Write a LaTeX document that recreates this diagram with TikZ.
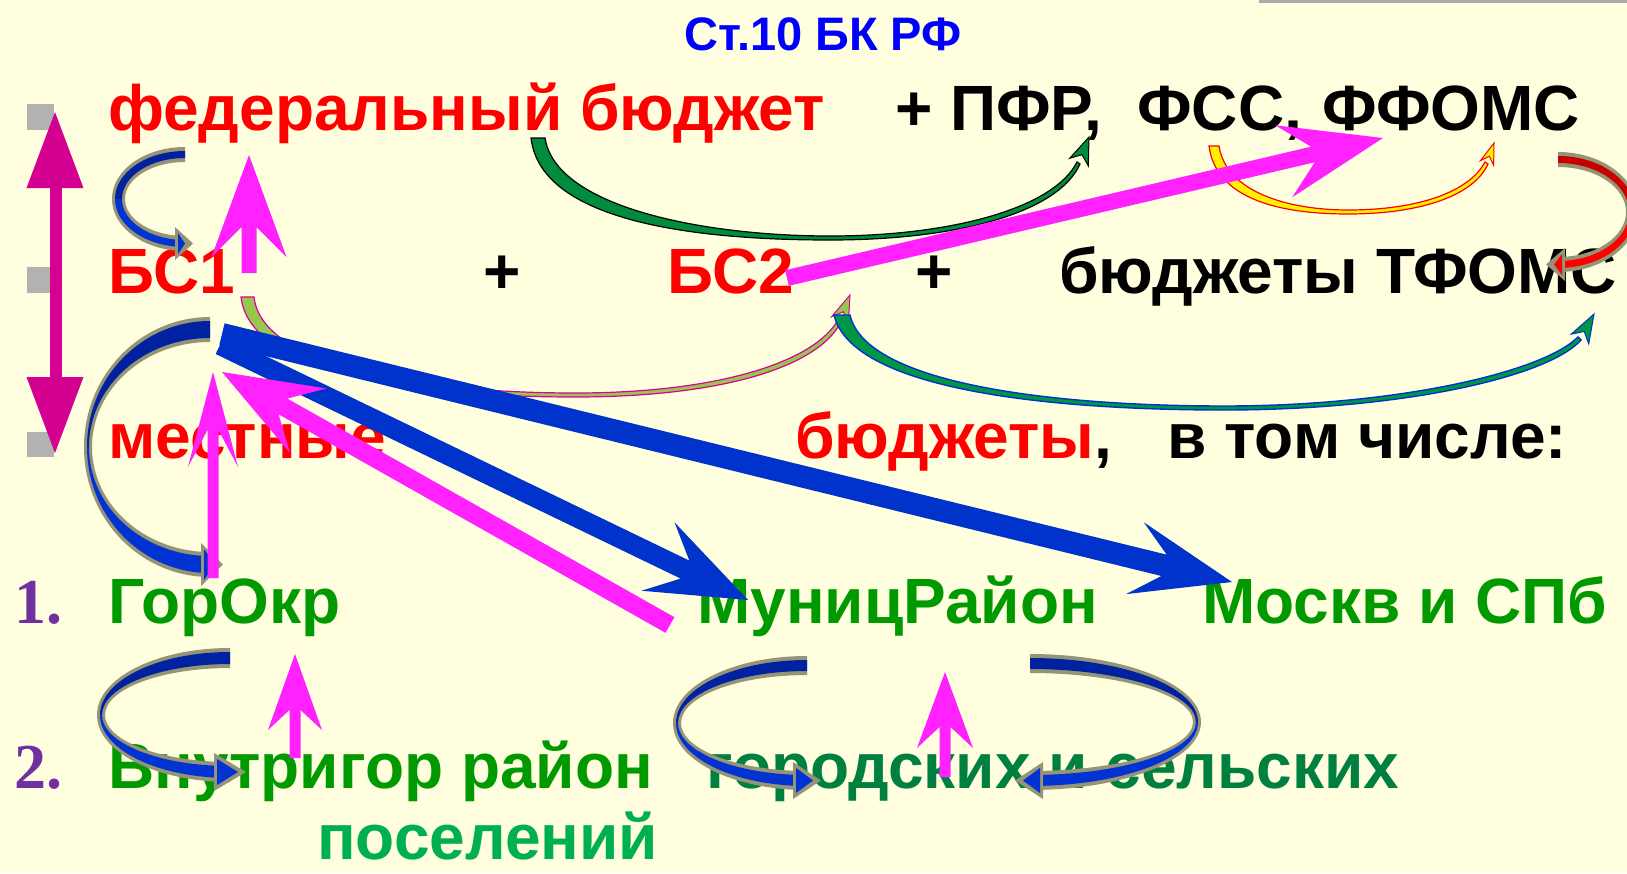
\documentclass[tikz,border=0pt]{standalone}
\usepackage{fontspec}
\setmainfont{Liberation Sans}
\newfontfamily\numfont{Liberation Serif}
\usetikzlibrary{calc}
\definecolor{bg}{RGB}{255,255,224}
\definecolor{cgray}{RGB}{150,148,118}
\definecolor{topblue}{RGB}{0,34,160}
\definecolor{botblue}{RGB}{0,51,210}
\definecolor{topred}{RGB}{200,0,0}
\definecolor{botred}{RGB}{255,0,0}
\definecolor{bluear}{RGB}{0,51,204}
\definecolor{mag}{RGB}{255,34,255}
\definecolor{vmag}{RGB}{212,0,145}
\definecolor{grn}{RGB}{0,153,0}
\definecolor{dgrn}{RGB}{0,128,64}
\definecolor{lgrn}{RGB}{0,176,80}
\definecolor{numpurple}{RGB}{112,48,160}
\definecolor{titleblue}{RGB}{0,0,255}
\definecolor{bulletgray}{RGB}{178,178,178}
\definecolor{gfill}{RGB}{0,140,60}
\definecolor{pgfillc}{RGB}{150,200,80}
\definecolor{pgdraw}{RGB}{220,0,150}
\definecolor{bgfill}{RGB}{0,150,70}
\definecolor{topline}{RGB}{170,170,170}

% straight fat arrow: color, start, tip, shaft half width, head length, head half width, notch distance
\newcommand\fatarrow[7]{%
  \coordinate (faN) at ($(#3)!#7pt!(#2)$);
  \coordinate (faB) at ($(#3)!#5pt!(#2)$);
  \fill[#1] ($(#2)!#4pt!90:(#3)$) -- ($(faN)!#4pt!90:(#3)$) -- ($(faB)!#6pt!90:(#3)$) -- (#3)
    -- ($(faB)!#6pt!-90:(#3)$) -- ($(faN)!#4pt!-90:(#3)$) -- ($(#2)!#4pt!-90:(#3)$) -- cycle;}
% head only: fill, draw, base, tip, half width, notch distance
\newcommand\headpoly[6]{%
  \filldraw[fill=#1, draw=#2, line width=1pt, line join=miter] (#4) -- ($(#3)!#5pt!90:(#4)$)
    -- ($(#4)!#6pt!(#3)$) -- ($(#3)!#5pt!-90:(#4)$) -- cycle;}
% C-shaped ribbon arrow bulging left: cx cy rxo ryo rxi ryi hl colourname hb
\newcommand\Cleft[9]{%
  \fill[cgray] (#1,#2-#4) arc[start angle=270,end angle=90,x radius=#3,y radius=#4]
    -- (#1,#2+#6) arc[start angle=90,end angle=270,x radius=#5,y radius=#6] -- cycle;
  \fill[top#8] (#1,#2-#4+4) arc[start angle=270,end angle=180,x radius=#3-3,y radius=#4-4]
    -- (#1-#5-3,#2) arc[start angle=180,end angle=270,x radius=#5+3,y radius=#6+4] -- cycle;
  \fill[bot#8] (#1-#3+3,#2) arc[start angle=180,end angle=90,x radius=#3-3,y radius=#4-4]
    -- (#1,#2+#6+4) arc[start angle=90,end angle=180,x radius=#5+3,y radius=#6+4] -- cycle;
  \fill[cgray] (#1-#9,#2+#6-9) -- (#1+#7,#2+#4/2+#6/2) -- (#1-#9,#2+#4+9) -- cycle;
  \fill[bot#8] (#1-#9+3,#2+#6-3) -- (#1+#7-8,#2+#4/2+#6/2) -- (#1-#9+3,#2+#4+3) -- cycle;}
% C-shaped ribbon arrow bulging right
\newcommand\Cright[9]{%
  \fill[cgray] (#1,#2-#4) arc[start angle=-90,end angle=90,x radius=#3,y radius=#4]
    -- (#1,#2+#6) arc[start angle=90,end angle=-90,x radius=#5,y radius=#6] -- cycle;
  \fill[top#8] (#1,#2-#4+4) arc[start angle=-90,end angle=0,x radius=#3-3,y radius=#4-4]
    -- (#1+#5+3,#2) arc[start angle=0,end angle=-90,x radius=#5+3,y radius=#6+4] -- cycle;
  \fill[bot#8] (#1+#3-3,#2) arc[start angle=0,end angle=90,x radius=#3-3,y radius=#4-4]
    -- (#1,#2+#6+4) arc[start angle=90,end angle=0,x radius=#5+3,y radius=#6+4] -- cycle;
  \fill[cgray] (#1+#9,#2+#6-9) -- (#1-#7,#2+#4/2+#6/2) -- (#1+#9,#2+#4+9) -- cycle;
  \fill[bot#8] (#1+#9-3,#2+#6-3) -- (#1-#7+8,#2+#4/2+#6/2) -- (#1+#9-3,#2+#4+3) -- cycle;}

\begin{document}
\begin{tikzpicture}[x=1pt,y=-1pt,
  txt/.style={anchor=base west, inner sep=0pt, font=\fontsize{64}{64}\selectfont\bfseries},
  num/.style={anchor=base west, inner sep=0pt, text=numpurple, font=\fontsize{64}{64}\selectfont\numfont\bfseries},
  bullet/.style={fill=bulletgray}]
\fill[bg] (0,0) rectangle (1627,873);
\useasboundingbox (0,0) rectangle (1627,873);
\draw[topline, line width=3pt] (1259,1.5) -- (1627,1.5);

% bullets
\fill[bullet] (27,104) rectangle (54,130);
\fill[bullet] (27,267) rectangle (54,293);
\fill[bullet] (27,432) rectangle (54,457);

% texts
\node[anchor=base west, inner sep=0pt, text=titleblue, font=\fontsize{47}{47}\selectfont\bfseries] (title) at (684,50) {Ст.10 БК РФ};
\node[txt, text=red] (fed) at (108,130) {федеральный бюджет};
\node[txt] (pfr) at (895,130) {+ ПФР,};
\node[txt] (fss) at (1137,130) {ФСС,};
\node[txt] (ffoms) at (1322,130) {ФФОМС};
\node[txt, text=red] (bs1) at (108,293) {БС1};
\node[txt] (plus1) at (483,293) {+};
\node[txt, text=red] (bs2) at (667,293) {БС2};
\node[txt] (plus2) at (915,293) {+};
\node[txt] (tfoms) at (1059,293) {бюджеты ТФОМС};
\node[txt, text=red] (mest) at (108,458) {местные};
\node[txt] (bud) at (795,458) {\textcolor{red}{бюджеты},};
\node[txt] (vtom) at (1167,458) {в том числе:};
\node[num] (n1) at (14,623) {1.};
\node[txt, text=grn] (gorokr) at (108,623) {ГорОкр};
\node[txt, text=grn] (munic) at (697,623) {МуницРайон};
\node[txt, text=grn] (msk) at (1202,623) {Москв и СПб};
\node[num] (n2) at (14,788) {2.};
\node[txt, text=grn] (vnutri) at (108,788) {Внутригор район};
\node[txt, text=dgrn] (gorsel) at (706,788) {городских и сельских};
\node[txt, text=lgrn] (posel) at (317,859) {поселений};

% vertical double arrow
\coordinate (vtop) at (55,112);
\coordinate (vbot) at (55,453);
\fill[vmag] (49.5,186) rectangle (61.5,379);
\fill[vmag] (vtop) -- (83.5,188) -- (26.5,188) -- cycle;
\fill[vmag] (vbot) -- (83.5,377) -- (26.5,377) -- cycle;

% C-shaped ribbon arrows
\Cleft{185}{199}{73}{52}{60}{37}{8}{blue}{10}
\Cleft{210}{447}{126}{130}{118}{105}{13}{blue}{9}
\Cleft{230}{715}{133}{67}{125}{47}{16}{blue}{16}
\Cleft{807}{723}{134}{67}{126}{48}{14}{blue}{14}
\Cright{1030}{722}{171}{68}{163}{49}{15}{blue}{13}
\Cright{1558}{212}{80}{60}{68}{45}{12}{red}{7}

% thin curved arrows
\filldraw[fill=gfill, draw=black, line width=1.2pt]
  (531,138) .. controls (541,223) and (700,240) .. (830,240) .. controls (957,240) and (1058,213) .. (1080,164)
  -- (1077,162) .. controls (1054,208) and (952,236) .. (830,236) .. controls (706,236) and (556,208) .. (545,138) -- cycle;
\coordinate (g1b) at (1079,162); \coordinate (g1t) at (1089,137);
\headpoly{gfill}{black}{g1b}{g1t}{10}{19}

\filldraw[fill=yellow, draw=red, line width=1.2pt]
  (1209,146) .. controls (1216,200) and (1282,214) .. (1348,214) .. controls (1422,214) and (1474,195) .. (1488,164)
  -- (1485,162) .. controls (1469,192) and (1418,210) .. (1348,210) .. controls (1288,210) and (1226,192) .. (1219,146) -- cycle;
\coordinate (r1b) at (1487,163); \coordinate (r1t) at (1494,143);
\headpoly{yellow}{red}{r1b}{r1t}{7}{14}

\filldraw[fill=pgfillc, draw=pgdraw, line width=1.2pt]
  (241,297) .. controls (250,375) and (420,397) .. (575,397) .. controls (722,397) and (818,367) .. (841,322)
  -- (838,320) .. controls (814,362) and (718,393) .. (575,393) .. controls (425,393) and (262,368) .. (254,297) -- cycle;
\coordinate (p1b) at (840,320); \coordinate (p1t) at (850,295);
\headpoly{pgfillc}{pgdraw}{p1b}{p1t}{9}{18}

\filldraw[fill=bgfill, draw=bluear, line width=1.4pt]
  (834,315) .. controls (852,390) and (1050,410) .. (1224,410) .. controls (1402,410) and (1548,377) .. (1581,340)
  -- (1578,337) .. controls (1543,372) and (1398,406) .. (1224,406) .. controls (1058,406) and (866,385) .. (850,315) -- cycle;
\coordinate (b1b) at (1580,339); \coordinate (b1t) at (1594,314);
\headpoly{bgfill}{bluear}{b1b}{b1t}{10}{20}

% blue straight arrows
\coordinate (bmS) at (220,345); \coordinate (bmT) at (748,600);
\coordinate (bsS) at (222,334); \coordinate (bsT) at (1232,582);
\fatarrow{bluear}{bmS}{bmT}{10}{100}{38}{70}
\fatarrow{bluear}{bsS}{bsT}{11}{100}{37}{70}

% magenta straight arrows
\coordinate (a1s) at (249,273); \coordinate (a1t) at (249,155);
\coordinate (a2s) at (213,578); \coordinate (a2t) at (213,372);
\coordinate (a3s) at (295,758); \coordinate (a3t) at (295,654);
\coordinate (a4s) at (945,777); \coordinate (a4t) at (945,672);
\coordinate (a5s) at (670,625); \coordinate (a5t) at (222,372);
\coordinate (a6s) at (787,278); \coordinate (a6t) at (1383,138);
\fatarrow{mag}{a1s}{a1t}{7.5}{102}{37.5}{72}
\fatarrow{mag}{a2s}{a2t}{5.5}{95}{25}{58}
\fatarrow{mag}{a3s}{a3t}{5.5}{76}{27}{56}
\fatarrow{mag}{a4s}{a4t}{5.5}{76}{28}{55}
\fatarrow{mag}{a5s}{a5t}{9}{99}{37}{70}
\fatarrow{mag}{a6s}{a6t}{8}{102}{37}{72}
\end{tikzpicture}
\end{document}
